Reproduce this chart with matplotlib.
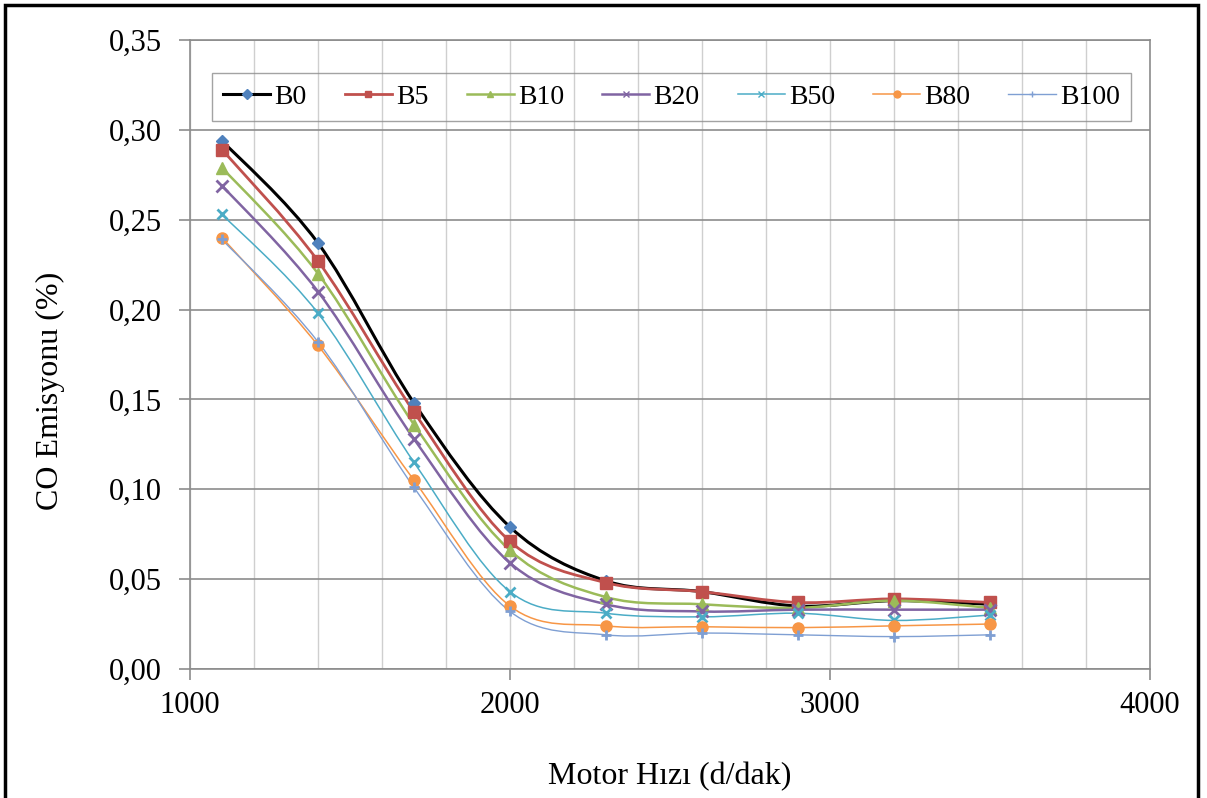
import numpy as np
import matplotlib
matplotlib.use("Agg")
import matplotlib.pyplot as plt
from matplotlib.path import Path
from matplotlib.patches import PathPatch, Rectangle
from matplotlib.lines import Line2D
from matplotlib.ticker import MultipleLocator

plt.rcParams['font.family'] = ['Liberation Serif', 'DejaVu Serif']

# motor speed (d/dak)
speed = [1100, 1400, 1700, 2000, 2300, 2600, 2900, 3200, 3500]

# CO emission (%) per fuel blend
b0 = [0.294, 0.237, 0.148, 0.079, 0.049, 0.043, 0.035, 0.038, 0.036]
b5 = [0.289, 0.227, 0.143, 0.071, 0.048, 0.043, 0.037, 0.039, 0.037]
b10 = [0.279, 0.220, 0.136, 0.066, 0.040, 0.036, 0.034, 0.038, 0.034]
b20 = [0.269, 0.210, 0.128, 0.059, 0.036, 0.032, 0.033, 0.033, 0.033]
b50 = [0.253, 0.198, 0.115, 0.043, 0.031, 0.029, 0.031, 0.027, 0.030]
b80 = [0.240, 0.180, 0.105, 0.035, 0.024, 0.0235, 0.023, 0.024, 0.025]
b100 = [0.239, 0.182, 0.101, 0.032, 0.019, 0.020, 0.019, 0.018, 0.019]

labels = ["B0", "B5", "B10", "B20", "B50", "B80", "B100"]
x_ticks = [1000, 2000, 3000, 4000]
y_ticks = [0.00, 0.05, 0.10, 0.15, 0.20, 0.25, 0.30, 0.35]
y_tick_labels = ["0,00", "0,05", "0,10", "0,15", "0,20", "0,25", "0,30", "0,35"]

series = [b0, b5, b10, b20, b50, b80, b100]
line_colors = ["black", "#C0504D", "#9BBB59", "#8064A2", "#4BACC6", "#F79646", "#7F9FD3"]
marker_colors = ["#4F81BD", "#C0504D", "#9BBB59", "#8064A2", "#4BACC6", "#F79646", "#7F9FD3"]
markers = ["D", "s", "^", "x", "x", "o", "+"]
msizes = [6, 8, 8, 8, 7, 8, 7]
lws = [2.2, 2.0, 1.8, 1.8, 1.1, 1.1, 1.0]


def smooth_path(x, y):
    # Excel-like smoothed line: cubic bezier through the data points
    pts = np.column_stack([x, y]).astype(float)
    n = len(pts)
    verts = [pts[0]]
    codes = [Path.MOVETO]
    for i in range(n - 1):
        p0 = pts[max(i - 1, 0)]
        p1 = pts[i]
        p2 = pts[i + 1]
        p3 = pts[min(i + 2, n - 1)]
        c1 = p1 + (p2 - p0) / 6.0
        c2 = p2 - (p3 - p1) / 6.0
        verts += [c1, c2, p2]
        codes += [Path.CURVE4] * 3
    return Path(verts, codes)


fig = plt.figure(figsize=(12.07, 7.98), dpi=100)
ax = fig.add_axes([0.1574, 0.1617, 0.7954, 0.7882])

handles = []
for vals, lab, lc, mc, mk, ms, lw in zip(series, labels, line_colors, marker_colors, markers, msizes, lws):
    ax.add_patch(PathPatch(smooth_path(speed, vals), facecolor="none", edgecolor=lc, lw=lw, zorder=3))
    ax.plot(speed, vals, linestyle="none", marker=mk, markersize=ms, color=mc,
            markeredgewidth=2 if mk in ("x", "+") else 1, zorder=4)
    handles.append(Line2D([], [], color=lc, lw=lw, marker=mk, markersize=5, markerfacecolor=mc,
                          markeredgecolor=mc, label=lab))

ax.set_xlim(1000, 4000)
ax.set_ylim(0, 0.35)
ax.set_xticks(x_ticks)
ax.set_yticks(y_ticks)
ax.set_yticklabels(y_tick_labels)
ax.xaxis.set_minor_locator(MultipleLocator(200))

ax.grid(axis="y", which="major", color="#8c8c8c", lw=1.2, zorder=0)
ax.grid(axis="x", which="both", color="#cfcfcf", lw=1.0, zorder=0)
ax.set_axisbelow(True)
ax.tick_params(axis="x", which="minor", length=0)
ax.tick_params(axis="both", which="major", labelsize=22, length=8, color="#8c8c8c", width=1.2)
ax.tick_params(axis="y", pad=12)
ax.tick_params(axis="x", pad=8)
for s in ax.spines.values():
    s.set_color("#8c8c8c")
    s.set_linewidth(1.2)

ax.set_xlabel("Motor Hızı (d/dak)", fontsize=23, labelpad=30)
ax.set_ylabel("CO Emisyonu (%)", fontsize=23)
ax.yaxis.set_label_coords(-0.130, 0.442)

leg = ax.legend(handles=handles, ncol=7, loc="lower left", mode="expand",
                bbox_to_anchor=(0.023, 0.871, 0.957, 0.097), fontsize=20,
                frameon=True, fancybox=False, edgecolor="#8c8c8c", facecolor="none",
                handlelength=1.7, handletextpad=0.15, borderaxespad=0, columnspacing=0.5)
leg.get_frame().set_linewidth(1.0)

fig.add_artist(Rectangle((5 / 1207, -0.02), 1193 / 1207, 1.02 - 5 / 798, transform=fig.transFigure,
                         fill=False, edgecolor="black", lw=2.5))

fig.savefig("out.png", dpi=100)
